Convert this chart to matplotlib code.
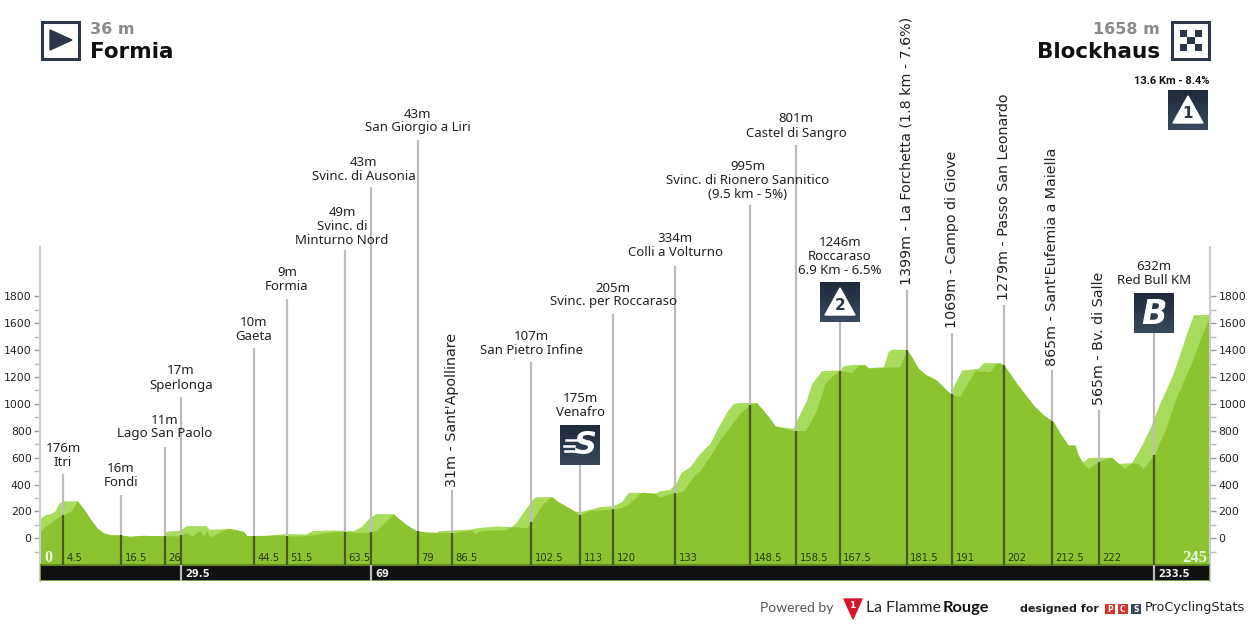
#!/usr/bin/env python3
"""Stage profile Formia - Blockhaus, with climb icons and km markers."""

import matplotlib
matplotlib.use("Agg")
import matplotlib.pyplot as plt
import numpy as np
from matplotlib.patches import Polygon, Rectangle

# back profile (lighter, visible on the climbs)
LIGHT_KM = [0, 1, 2.1, 3.1, 4, 4.9, 7.8, 9.1, 10.5, 11.9, 13.3, 14.7, 16.7, 18.8, 21.6, 25.8, 26.5, 29.3, 30.6,
            34.8, 35.4, 39.8, 42.6, 43.3, 47.5, 51.6, 55.8, 56.9, 61.4, 65.6, 67.3, 69.1, 70.5, 74, 75.4, 76.8,
            78.9, 81, 83.1, 83.4, 86.6, 90.4, 91.5, 95.6, 98.7, 99.8, 101.5, 103.3, 104, 107.1, 108.5, 110.3,
            112, 113, 115.1, 117.2, 120, 121.8, 123.2, 126.3, 128.8, 129.8, 131.9, 133.3, 134.3, 136.1, 138.2,
            140.3, 141.7, 143.8, 145.2, 146.6, 150, 151.4, 152.8, 153.9, 157.7, 158.8, 160.5, 161.6, 163.7,
            167.5, 168.2, 170.3, 172.7, 173.4, 176.6, 177.6, 178.3, 181.5, 182.5, 183.9, 185.6, 187.7, 189.8,
            190.9, 191.2, 193, 196.5, 197.5, 201, 202, 204.5, 208, 210.1, 212.2, 213.6, 215.3, 216.7, 217.4,
            218.3, 219.5, 221.2, 224.4, 225.8, 228.6, 230.7, 232.4, 234.2, 237.3, 240.1, 241.5, 245]
LIGHT_ELEV = [146, 175, 183, 203, 262, 279, 279, 220, 146, 79, 40, 27, 25, 15, 22, 20, 54, 59, 94,
              94, 67, 72, 52, 20, 22, 35, 32, 57, 62, 57, 89, 158, 183, 183, 138, 99,
              55, 47, 45, 55, 62, 69, 79, 92, 87, 124, 211, 298, 310, 310, 273, 236,
              203, 198, 216, 236, 243, 273, 342, 342, 335, 354, 364, 421, 491, 533, 633,
              707, 806, 942, 1004, 1011, 1011, 955, 893, 836, 818, 905, 1029, 1153, 1247,
              1252, 1284, 1294, 1294, 1270, 1277, 1389, 1406, 1406, 1352, 1265, 1215, 1178, 1104,
              1066, 1128, 1252, 1265, 1307, 1307, 1282, 1153, 992, 918, 868, 781, 694, 694, 620,
              570, 600, 603, 603, 558, 563, 694, 818, 980, 1228, 1525, 1662, 1667]

# front profile (true elevation, darker)
DARK_KM = [0, 1, 2.8, 3.9, 4.9, 6.6, 7.8, 9.1, 10.5, 11.9, 13.3, 14.7, 16.7, 18.8, 21.6, 25.8, 26.5, 29.3, 30.6,
           31.7, 33.5, 34.2, 34.9, 35.6, 37.7, 39.1, 39.8, 42.6, 43.3, 47.5, 50, 53, 55.8, 58, 61.4, 63.5, 66,
           69, 70.5, 72.5, 74, 75.4, 76.8, 78.9, 81, 86.6, 90.4, 91.1, 92.2, 94.3, 97.4, 98.8, 101.9, 102.8,
           104, 105.4, 107.1, 108.5, 110.3, 112, 113, 115.1, 117.2, 120, 121.8, 123.2, 125.6, 126.3, 128.8,
           129.8, 131.9, 133, 134.7, 136.8, 138.2, 140.3, 142.4, 144.5, 146.6, 148.7, 150, 151.4, 152.8, 153.9,
           157.7, 160.2, 161.2, 162.6, 164.4, 166.1, 167.5, 170, 171.3, 172.7, 173.4, 176.6, 180, 181.5, 182.5,
           183.9, 185.6, 187.7, 189.8, 190.9, 192.6, 194, 195.8, 198.9, 200.3, 201.3, 202, 204.5, 208, 210.1,
           212.2, 213.6, 215.3, 216.7, 217.4, 218.3, 219.5, 220.5, 221.7, 223.3, 224.4, 225.8, 227.2, 228.6,
           230, 231, 233.5, 234.2, 235.9, 238, 241.1, 242.9, 245]
DARK_ELEV = [45, 85, 133, 158, 176, 207, 279, 220, 146, 79, 40, 27, 25, 15, 22, 18, 20, 17, 45,
             15, 58, 12, 58, 10, 47, 72, 72, 52, 20, 22, 25, 15, 20, 32, 50, 49, 45,
             43, 60, 130, 183, 138, 99, 55, 45, 42, 62, 37, 55, 62, 62, 87, 79, 118,
             186, 260, 310, 273, 236, 198, 175, 206, 211, 216, 231, 255, 332, 342, 335,
             305, 335, 334, 355, 459, 504, 610, 734, 833, 932, 995, 1011, 955, 893, 836,
             801, 801, 855, 954, 1153, 1215, 1247, 1233, 1285, 1290, 1265, 1272, 1277, 1401, 1352,
             1265, 1215, 1178, 1104, 1071, 1054, 1141, 1247, 1240, 1302, 1300, 1282, 1153, 992, 918,
             868, 781, 694, 694, 620, 558, 521, 546, 570, 595, 603, 558, 521, 563,
             558, 516, 632, 694, 831, 1054, 1302, 1476, 1662]

Y_MAJOR = [0, 200, 400, 600, 800, 1000, 1200, 1400, 1600, 1800]
Y_MINOR = [-100, 100, 300, 500, 700, 900, 1100, 1300, 1500, 1700]

# points of passage: printed km, position on the drawn axis, top of the grey stem (m)
MARK_KM = [4.5, 16.5, 26, 29.5, 44.5, 51.5, 63.5, 69, 79, 86.5, 102.5, 113, 120, 133, 148.5, 158.5, 167.5,
           181.5, 191, 202, 212.5, 222, 233.5]
MARK_POS = [4.8, 17, 26.2, 29.5, 44.8, 51.7, 63.9, 69.3, 79.1, 86.3, 102.8, 113.1, 120, 133, 148.7, 158.3, 167.5,
            181.5, 191, 201.8, 211.9, 221.7, 233.3]
MARK_TOP = [478, 322, 679, 1051, 1416, 1781, 2145, 2614, 2963, 359, 1312, 545, 1669, 2026, 2480, 2927, 1610,
            1848, 1528, 1736, 1252, 955, 1528]
LOWER_ROW = [29.5, 69, 233.5]

# flat labels, drawn line by line: x px, y px of the last line, text
LABEL_X = [63, 121, 165, 181, 254, 287, 342, 364, 418, 531, 580, 613, 675, 748, 796, 840, 1154]
LABEL_Y = [462, 483, 434, 385, 336, 287, 240, 177, 128, 350, 413, 302, 253, 195, 133, 270, 281]
LABEL_TEXT = ["176m|Itri", "16m|Fondi", "11m|Lago San Paolo", "17m|Sperlonga", "10m|Gaeta", "9m|Formia",
              "49m|Svinc. di|Minturno Nord", "43m|Svinc. di Ausonia", "43m|San Giorgio a Liri",
              "107m|San Pietro Infine", "175m|Venafro", "205m|Svinc. per Roccaraso", "334m|Colli a Volturno",
              "995m|Svinc. di Rionero Sannitico|(9.5 km - 5%)", "801m|Castel di Sangro",
              "1246m|Roccaraso|6.9 Km - 6.5%", "632m|Red Bull KM"]

# rotated labels: x px, y px of the bottom end
ROT_X = [452, 907, 952, 1004, 1052, 1099]
ROT_Y = [487, 285, 328, 300, 366, 405]
ROT_TEXT = ["31m - Sant'Apollinare", "1399m - La Forchetta (1.8 km - 7.6%)", "1069m - Campo di Giove",
            "1279m - Passo San Leonardo", "865m - Sant'Eufemia a Maiella", "565m - Bv. di Salle"]

LIGHT = "#a6db5b"
DARK = "#8bc430"
STEM = "#bcbcbc"
STEM_LOW = "#4a5a22"
NAVY = "#2c3849"
LABEL_FONT = "Noto Sans"


def icon_box(ov, x, y, size=40):
    grad = np.linspace(0, 1, 32).reshape(-1, 1)
    cmap = matplotlib.colors.LinearSegmentedColormap.from_list("navy", ["#1f2a3a", "#3a485d"])
    ov.imshow(grad, extent=(x, x + size, y + size, y), cmap=cmap, aspect="auto", zorder=5)


def draw_cat(ov, x, y, num, fs):
    icon_box(ov, x, y)
    ov.add_patch(Polygon([(x + 20, y + 6), (x + 35, y + 33), (x + 5, y + 33)], color="white", zorder=6))
    ov.text(x + 20, y + 23.5, num, ha="center", va="center", fontsize=fs, fontweight="bold", color=NAVY, zorder=7)


def main():
    fig = plt.figure(figsize=(12.5, 6.25), dpi=100)
    top_px, bot_px = 247, 581
    ax = fig.add_axes([40 / 1250, 1 - bot_px / 625, 1170 / 1250, (bot_px - top_px) / 625])
    ax.set_xlim(0, 245)
    ax.set_ylim(-317.7, 2167.4)
    ax.patch.set_alpha(0)

    ax.fill_between(LIGHT_KM, -200, LIGHT_ELEV, color=LIGHT, lw=0, zorder=1)
    ax.fill_between(DARK_KM, -200, DARK_ELEV, color=DARK, lw=0, zorder=2)
    ax.add_patch(Rectangle((0, -317.7), 245, 117.7, facecolor="#111111", edgecolor="#8fb84a", lw=1.2, zorder=3))
    ax.plot([0, 245], [-200, -200], color="#5f7f22", lw=1.2, zorder=4)

    for s in ("top", "bottom"):
        ax.spines[s].set_visible(False)
    for s in ("left", "right"):
        ax.spines[s].set_color("#cccccc")
        ax.spines[s].set_linewidth(1.5)
    ax.set_xticks([])
    ax.set_yticks(Y_MAJOR)
    ax.set_yticks(Y_MINOR, minor=True)
    ax.tick_params(axis="y", which="both", left=True, right=True, labelleft=True, labelright=True,
                   length=4, width=1, color="#999999", labelsize=7.8, pad=2, labelcolor="#222222")
    ax.tick_params(axis="y", which="minor", color="#bbbbbb")

    for km, pos, top in zip(MARK_KM, MARK_POS, MARK_TOP):
        elev = np.interp(pos, DARK_KM, DARK_ELEV)
        ax.plot([pos, pos], [elev, top], color=STEM, lw=1.6, zorder=4, clip_on=False, solid_capstyle="butt")
        ax.plot([pos, pos], [-200, elev], color=STEM_LOW, lw=1.6, zorder=4, solid_capstyle="butt")
        if km in LOWER_ROW:
            ax.plot([pos, pos], [-317, -200], color=STEM, lw=1.6, zorder=4, solid_capstyle="butt")
            ax.annotate(str(km), (pos, -317), xytext=(3, 2.5), textcoords="offset points", fontsize=7.2,
                        color="#eeeeee", fontweight="bold", zorder=5)
        else:
            ax.annotate(f"{km:g}", (pos, -200), xytext=(2.5, 3), textcoords="offset points", fontsize=7.2,
                        color="#2a3a10", zorder=5)
    ax.annotate("0", (0, -200), xytext=(3, 2), textcoords="offset points", fontsize=11.5, color="#eef7dd",
                fontweight="bold", family="Liberation Serif", zorder=5)
    ax.annotate("245", (245, -200), xytext=(-2, 2), textcoords="offset points", fontsize=12, ha="right",
                color="#eef7dd", fontweight="bold", family="Liberation Serif", zorder=5)

    # overlay in pixel coordinates for labels, icons and footer
    ov = fig.add_axes([0, 0, 1, 1], zorder=10)
    ov.set_xlim(0, 1250)
    ov.set_ylim(625, 0)
    ov.axis("off")

    for x, y, txt in zip(LABEL_X, LABEL_Y, LABEL_TEXT):
        lines = txt.split("|")
        for i, line in enumerate(lines):
            ov.text(x, y - 14 * (len(lines) - 1 - i), line, ha="center", va="center", fontsize=9.5,
                    family=LABEL_FONT, color="#222222")
    for x, y, txt in zip(ROT_X, ROT_Y, ROT_TEXT):
        ov.text(x, y, txt, rotation=90, ha="center", va="bottom", fontsize=10.3, family="DejaVu Sans", color="#222222")

    # header
    ov.add_patch(Rectangle((41.5, 21.5), 37, 37, fill=False, edgecolor=NAVY, lw=2.2))
    ov.add_patch(Polygon([(50, 30), (72, 40), (50, 50)], color=NAVY))
    ov.text(90, 29, "36 m", fontsize=11.5, fontweight="bold", color="#8a8a8a", va="center")
    ov.text(90, 52, "Formia", fontsize=15.5, fontweight="bold", color="#111111", va="center")
    ov.text(1160, 29, "1658 m", fontsize=11.5, fontweight="bold", color="#8a8a8a", va="center", ha="right")
    ov.text(1160, 52, "Blockhaus", fontsize=15.5, fontweight="bold", color="#111111", va="center", ha="right")
    ov.add_patch(Rectangle((1171.5, 21.5), 37, 37, fill=False, edgecolor=NAVY, lw=2.2))
    for r in range(3):
        for c in range(3):
            if (r + c) % 2 == 0:
                ov.add_patch(Rectangle((1180 + c * 7.3, 29.5 + r * 7.3), 7.3, 7.3, color=NAVY, lw=0))

    ov.text(1210, 81, "13.6 Km - 8.4%", fontsize=8, fontweight="bold", ha="right", va="center",
            family="Roboto", color="#111111")
    draw_cat(ov, 1168, 90, "1", 11)
    draw_cat(ov, 820, 282, "2", 11)

    icon_box(ov, 560, 425)
    ov.text(585, 446, "S", fontsize=23, fontweight="bold", style="italic", color="white", ha="center", va="center", zorder=7)
    for i, (x0, x1) in enumerate([(566, 576), (564, 574), (565, 575)]):
        ov.plot([x0, x1], [440 + i * 5.5] * 2, color="white", lw=1.8, zorder=7)
    icon_box(ov, 1134, 293)
    ov.text(1154, 314, "B", fontsize=24, fontweight="bold", style="italic", color="white", ha="center", va="center", zorder=7)

    # footer
    ov.text(760, 608, "Powered by", fontsize=10, family="Lato", color="#555555", va="center")
    ov.add_patch(Polygon([(844, 599), (862, 599), (853, 619)], color="#d8142a"))
    ov.text(852.5, 606, "1", fontsize=6.5, color="white", fontweight="bold", ha="center", va="center")
    ov.text(866, 608, "La Flamme", fontsize=11.3, family="Lato", color="#222222", va="center")
    ov.text(943, 608, "Rouge", fontsize=11.8, family="Lato", fontweight="bold", color="#111111", va="center")
    ov.text(1020, 608.5, "designed for", fontsize=8, fontweight="bold", family="DejaVu Sans", color="#222222", va="center")
    for x, ch, col in [(1105, "P", "#d8352a"), (1118, "C", "#d8352a"), (1131, "S", "#3a4656")]:
        ov.add_patch(Rectangle((x, 604), 9.5, 10, color=col, lw=0))
        ov.text(x + 4.75, 609, ch, fontsize=5.5, fontweight="bold", color="white", ha="center", va="center")
    ov.text(1145, 608, "ProCyclingStats", fontsize=9.2, family="DejaVu Sans", color="#222222", va="center")

    fig.savefig("out.png", dpi=100)


if __name__ == "__main__":
    main()
